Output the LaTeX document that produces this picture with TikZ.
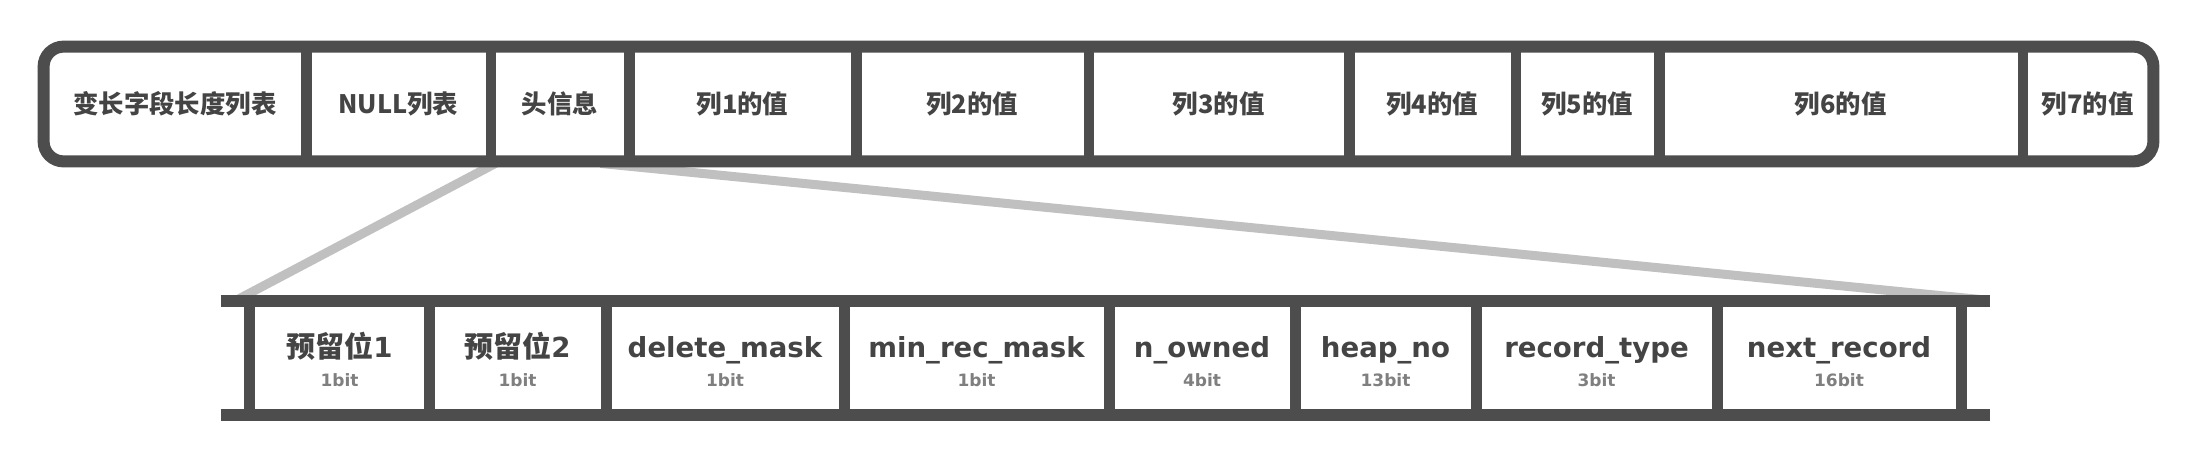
\documentclass[tikz,border=0pt]{standalone}
\usepackage{fontspec}
\newfontfamily\cjk{Noto Sans CJK SC}
\newfontfamily\lat{DejaVu Sans}
\usetikzlibrary{calc}
\definecolor{barc}{HTML}{4D4D4D}
\definecolor{txtc}{HTML}{444444}
\definecolor{subc}{HTML}{7F7F7F}
\definecolor{linkc}{HTML}{C0C0C0}
\newcommand{\zh}[1]{{\cjk\bfseries\fontsize{14.5}{16}\selectfont #1}}
\begin{document}
\begin{tikzpicture}[x=0.5pt,y=-0.5pt,
  cellbox/.style={rectangle, inner sep=0pt, minimum height=57pt},
  toplbl/.style={font=\cjk\bfseries\fontsize{12.7}{14}\selectfont, text=txtc},
  mainlbl/.style={anchor=base, inner sep=0pt, font=\lat\bfseries\fontsize{13.8}{16}\selectfont, text=txtc},
  sublbl/.style={anchor=base, inner sep=0pt, font=\lat\bfseries\fontsize{8.5}{10}\selectfont, text=subc},
  linkline/.style={draw=linkc, line width=4.5pt},
  frameline/.style={draw=barc, line width=6pt},
  divline/.style={draw=barc, line width=5.25pt}]
\useasboundingbox[fill=white] (0,0) rectangle (2202,462);

% top record cells
\node[cellbox, toplbl, minimum width=131pt]    (c1)  at (175,104)     {变长字段长度列表};
\node[cellbox, toplbl, minimum width=92.35pt]  (c2)  at (398.35,104)  {NULL列表};
\node[cellbox, toplbl, minimum width=69.15pt]  (c3)  at (559.85,104)  {头信息};
\node[cellbox, toplbl, minimum width=113.5pt]  (c4)  at (742.5,104)   {列1的值};
\node[cellbox, toplbl, minimum width=116.25pt] (c5)  at (972.25,104)  {列2的值};
\node[cellbox, toplbl, minimum width=130.25pt] (c6)  at (1218.75,104) {列3的值};
\node[cellbox, toplbl, minimum width=83.35pt]  (c7)  at (1432.35,104) {列4的值};
\node[cellbox, toplbl, minimum width=71.65pt]  (c8)  at (1587.35,104) {列5的值};
\node[cellbox, toplbl, minimum width=181.75pt] (c9)  at (1840.75,104) {列6的值};
\node[cellbox, toplbl, minimum width=65.25pt]  (c10) at (2087.75,104) {列7的值};

% bottom header cells
\node[cellbox, minimum width=89.5pt]  (r1) at (339.5,358)  {};
\node[cellbox, minimum width=88.5pt]  (r2) at (517.5,358)  {};
\node[cellbox, minimum width=119pt]   (r3) at (725,358)    {};
\node[cellbox, minimum width=132.5pt] (r4) at (976.5,358)  {};
\node[cellbox, minimum width=93pt]    (r5) at (1202,358)   {};
\node[cellbox, minimum width=90.5pt]  (r6) at (1385.5,358) {};
\node[cellbox, minimum width=120.5pt] (r7) at (1596.5,358) {};
\node[cellbox, minimum width=122pt]   (r8) at (1839,358)   {};

\node[mainlbl] (r1m) at ($(r1.center)+(0,-1)$) {\zh{预留位}1};
\node[mainlbl] (r2m) at ($(r2.center)+(0,-1)$) {\zh{预留位}2};
\node[mainlbl] (r3m) at ($(r3.center)+(0,-1)$) {delete\_mask};
\node[mainlbl] (r4m) at ($(r4.center)+(0,-1)$) {min\_rec\_mask};
\node[mainlbl] (r5m) at ($(r5.center)+(0,-1)$) {n\_owned};
\node[mainlbl] (r6m) at ($(r6.center)+(0,-1)$) {heap\_no};
\node[mainlbl] (r7m) at ($(r7.center)+(0,-1)$) {record\_type};
\node[mainlbl] (r8m) at ($(r8.center)+(0,-1)$) {next\_record};

\node[sublbl] (r1s) at ($(r1.center)+(0,28)$) {1bit};
\node[sublbl] (r2s) at ($(r2.center)+(0,28)$) {1bit};
\node[sublbl] (r3s) at ($(r3.center)+(0,28)$) {1bit};
\node[sublbl] (r4s) at ($(r4.center)+(0,28)$) {1bit};
\node[sublbl] (r5s) at ($(r5.center)+(0,28)$) {4bit};
\node[sublbl] (r6s) at ($(r6.center)+(0,28)$) {13bit};
\node[sublbl] (r7s) at ($(r7.center)+(0,28)$) {3bit};
\node[sublbl] (r8s) at ($(r8.center)+(0,28)$) {16bit};

% connectors (behind the frames)
\begin{scope}
\clip (0,0) rectangle (2202,295.5);
\draw[linkline] ($(c3.south west)+(9,0)$) -- ($(r1.north west)+(-14,0)$);
\draw[linkline] ($(c3.south east)+(-29,2)$) -- ($(r8.north east)+(30,0)$);
\end{scope}

% top frame
\draw[frameline, rounded corners=10pt] (c1.north west) rectangle (c10.south east);
\foreach \i in {1,...,9} \draw[divline] (c\i.north east) -- (c\i.south east);

% bottom frame
\draw[frameline] ($(r1.north west)+(-29,0)$) -- ($(r8.north east)+(29,0)$);
\draw[frameline] ($(r1.south west)+(-29,0)$) -- ($(r8.south east)+(29,0)$);
\draw[divline] (r1.north west) -- (r1.south west);
\foreach \i in {1,...,8} \draw[divline] (r\i.north east) -- (r\i.south east);
\end{tikzpicture}
\end{document}
